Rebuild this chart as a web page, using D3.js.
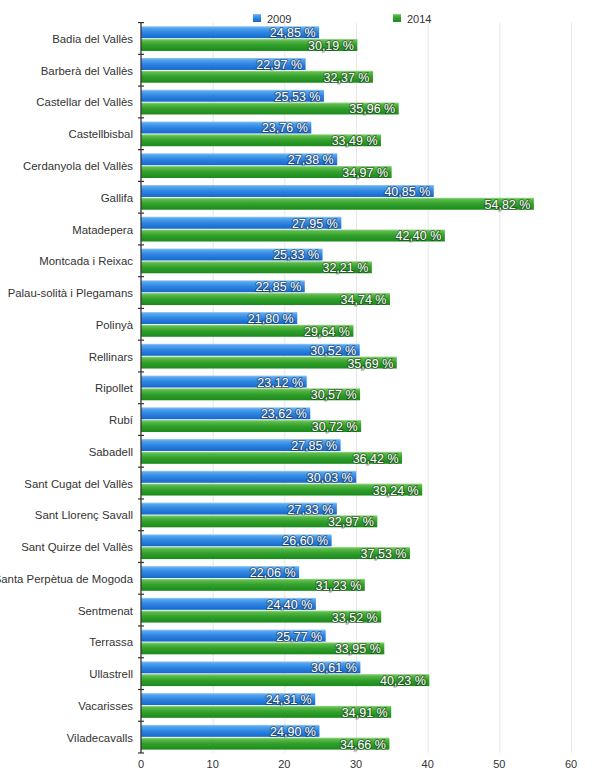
<!DOCTYPE html>
<html>
<head>
<meta charset="utf-8">
<script src="https://cdn.jsdelivr.net/npm/d3@7/dist/d3.min.js"></script>
<style>
  html, body { margin: 0; padding: 0; background: #fff; }
  svg { display: block; font-family: "Liberation Sans", Arial, sans-serif; }
</style>
</head>
<body>
<svg id="chart" width="593" height="784"></svg>
<script>
// Bar chart: 2009 vs 2014 percentages per municipality

var municipalities = [
  "Badia del Vallès", "Barberà del Vallès", "Castellar del Vallès", "Castellbisbal",
  "Cerdanyola del Vallès", "Gallifa", "Matadepera", "Montcada i Reixac",
  "Palau-solità i Plegamans", "Polinyà", "Rellinars", "Ripollet", "Rubí",
  "Sabadell", "Sant Cugat del Vallès", "Sant Llorenç Savall", "Sant Quirze del Vallès",
  "Santa Perpètua de Mogoda", "Sentmenat", "Terrassa", "Ullastrell", "Vacarisses",
  "Viladecavalls"
];
var values2009 = [
  24.85, 22.97, 25.53, 23.76, 27.38, 40.85, 27.95, 25.33, 22.85, 21.80, 30.52, 23.12,
  23.62, 27.85, 30.03, 27.33, 26.60, 22.06, 24.40, 25.77, 30.61, 24.31, 24.90
];
var values2014 = [
  30.19, 32.37, 35.96, 33.49, 34.97, 54.82, 42.40, 32.21, 34.74, 29.64, 35.69, 30.57,
  30.72, 36.42, 39.24, 32.97, 37.53, 31.23, 33.52, 33.95, 40.23, 34.91, 34.66
];
var seriesNames = ["2009", "2014"];
var xTicks = [0, 10, 20, 30, 40, 50, 60];

(function () {
  "use strict";

  var series = [values2009, values2014];

  var svg = d3.select("#chart");
  var plotLeft = 141, plotRight = 571, plotTop = 22.6, plotBottom = 753;

  var x = d3.scaleLinear().domain([0, 60]).range([plotLeft, plotRight]);
  var y = d3.scaleBand().domain(municipalities).range([plotTop, plotBottom]);
  var inner = d3.scaleBand().domain(seriesNames).range([3.6, y.bandwidth() - 3.4]).paddingInner(0.06);

  // --- Gradients ---
  var defs = svg.append("defs");
  var grads = [
    { id: "g2009", stops: ["#9ccdf8", "#56a6f0", "#2f86e2", "#1767cc"] },
    { id: "g2014", stops: ["#9ddc8e", "#5cbb4a", "#33a02c", "#198a1c"] }
  ];
  grads.forEach(function (g) {
    var lg = defs.append("linearGradient").attr("id", g.id)
      .attr("x1", 0).attr("y1", 0).attr("x2", 0).attr("y2", 1);
    lg.append("stop").attr("offset", "0%").attr("stop-color", g.stops[0]);
    lg.append("stop").attr("offset", "14%").attr("stop-color", g.stops[1]);
    lg.append("stop").attr("offset", "50%").attr("stop-color", g.stops[2]);
    lg.append("stop").attr("offset", "100%").attr("stop-color", g.stops[3]);
  });

  // --- Grid ---
  svg.append("g")
    .selectAll("line")
    .data(xTicks.slice(1))
    .join("line")
    .attr("x1", function (d) { return x(d) + 0.5; })
    .attr("x2", function (d) { return x(d) + 0.5; })
    .attr("y1", plotTop)
    .attr("y2", plotBottom)
    .attr("stroke", "#e6e6e6")
    .attr("stroke-width", 1);

  // --- Bars ---
  var rows = svg.append("g").selectAll("g")
    .data(municipalities)
    .join("g")
    .attr("transform", function (d) { return "translate(0," + y(d) + ")"; });

  seriesNames.forEach(function (name, si) {
    rows.append("rect")
      .attr("x", x(0))
      .attr("y", inner(name))
      .attr("width", function (d, i) { return x(series[si][i]) - x(0); })
      .attr("height", inner.bandwidth())
      .attr("fill", "url(#g" + name + ")");

    rows.append("text")
      .attr("x", function (d, i) { return x(series[si][i]) - 3.5; })
      .attr("y", inner(name) + inner.bandwidth() / 2 + 1)
      .attr("dominant-baseline", "central")
      .attr("text-anchor", "end")
      .attr("font-size", "12.5px")
      .attr("fill", "#fff")
      .attr("stroke", "rgba(30,30,30,0.45)")
      .attr("stroke-width", 2)
      .attr("paint-order", "stroke")
      .text(function (d, i) { return series[si][i].toFixed(2).replace(".", ",") + " %"; });
  });

  // --- Category labels ---
  svg.append("g")
    .selectAll("text")
    .data(municipalities)
    .join("text")
    .attr("x", 133)
    .attr("y", function (d) { return y(d) + y.bandwidth() / 2 + 0.5; })
    .attr("dominant-baseline", "central")
    .attr("text-anchor", "end")
    .attr("font-size", "11.4px")
    .attr("fill", "#333")
    .text(function (d) { return d; });

  // --- Left axis line + ticks ---
  svg.append("line")
    .attr("x1", x(0)).attr("x2", x(0))
    .attr("y1", plotTop).attr("y2", plotBottom)
    .attr("stroke", "#333").attr("stroke-width", 1.3);

  var boundaries = municipalities.map(function (d) { return y(d); }).concat([plotBottom]);
  svg.append("g")
    .selectAll("line")
    .data(boundaries)
    .join("line")
    .attr("x1", x(0) - 3).attr("x2", x(0) + 3)
    .attr("y1", function (d) { return d; })
    .attr("y2", function (d) { return d; })
    .attr("stroke", "#333").attr("stroke-width", 1.2);

  // --- X axis labels ---
  svg.append("g")
    .selectAll("text")
    .data(xTicks)
    .join("text")
    .attr("x", function (d) { return x(d); })
    .attr("y", 764)
    .attr("dominant-baseline", "central")
    .attr("text-anchor", "middle")
    .attr("font-size", "11px")
    .attr("fill", "#333")
    .text(function (d) { return d; });

  // --- Legend ---
  var legendX = [253, 393];
  var legend = svg.append("g").selectAll("g")
    .data(seriesNames)
    .join("g")
    .attr("transform", function (d, i) { return "translate(" + legendX[i] + ",14)"; });
  legend.append("rect")
    .attr("width", 8).attr("height", 8)
    .attr("fill", function (d) { return "url(#g" + d + ")"; });
  legend.append("text")
    .attr("x", 14).attr("y", 4.5)
    .attr("dominant-baseline", "central")
    .attr("font-size", "11px")
    .attr("fill", "#333")
    .text(function (d) { return d; });
})();
</script>
</body>
</html>
